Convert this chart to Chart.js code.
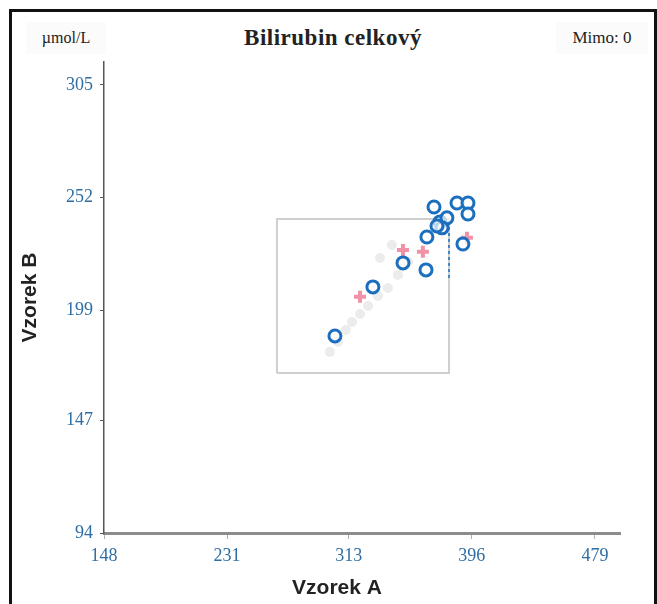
<!DOCTYPE html>
<html>
<head>
<meta charset="utf-8">
<script src="https://cdn.jsdelivr.net/npm/chart.js@4.4.0/dist/chart.umd.min.js"></script>
<style>
  body { margin: 0; background: #fff; overflow: hidden; }
  #wrap { position: relative; width: 657px; height: 604px; }
  #frame { position: absolute; left: 9px; top: 9px; width: 642px; height: 610px; border: 3px solid #111; border-bottom: none; }
  .hdr { position: absolute; top: 22px; height: 32px; line-height: 32px; font-family: "Liberation Serif", serif; color: #222; }
  #unit { left: 26px; width: 80px; text-align: center; font-size: 16px; background: #fbfbfb; }
  #title { left: 170px; width: 326px; text-align: center; font-size: 23px; font-weight: bold; letter-spacing: 0.5px; }
  #mimo { left: 556px; width: 92px; text-align: center; font-size: 17px; background: #fbfbfb; }
  canvas { position: absolute; left: 0; top: 0; }
</style>
</head>
<body>
<div id="wrap">
  <div id="frame"></div>
  <div class="hdr" id="unit">µmol/L</div>
  <div class="hdr" id="title">Bilirubin celkový</div>
  <div class="hdr" id="mimo">Mimo: 0</div>
  <canvas id="myChart" width="657" height="604"></canvas>
</div>
<script>
// axis ticks
const xTicks = [148, 231, 313, 396, 479];
const yTicks = [94, 147, 199, 252, 305];

// laboratories (blue circles)
const labA = [370.5, 386.0, 393.4, 393.4, 374.5, 379.2, 375.9, 372.5, 365.7, 390.0, 349.6, 365.1, 329.3, 303.7];
const labB = [247.5, 249.4, 249.4, 244.2, 240.5, 242.4, 237.7, 238.6, 233.4, 230.1, 221.2, 217.9, 209.9, 186.8];

// red markers
const refA = [349.6, 363.0, 320.6, 392.7];
const refB = [227.3, 226.4, 205.2, 233.0];

// faint grey cloud of earlier results
const histA = [300.3, 305.7, 311.1, 315.2, 320.6, 326.0, 332.7, 339.4, 346.2, 353.0, 342.1, 334.1];
const histB = [179.3, 184.0, 189.6, 193.4, 197.1, 200.9, 205.6, 209.4, 215.5, 221.6, 229.6, 223.5];

// acceptance box
const boxA = [264.6, 380.6, 380.6, 264.6, 264.6];
const boxB = [169.4, 169.4, 241.9, 241.9, 169.4];
const markA = [380.6, 380.6];
const markB = [214.1, 238.1];

function pts(xs, ys) {
  return xs.map((x, i) => ({ x: x, y: ys[i] }));
}

const xTitle = {
  id: "xTitle",
  afterDraw(chart) {
    const ctx = chart.ctx;
    ctx.save();
    ctx.font = "bold 21px 'Liberation Sans', Arial, sans-serif";
    ctx.fillStyle = "#222";
    ctx.textAlign = "center";
    ctx.textBaseline = "middle";
    ctx.fillText("Vzorek A", 337, 588);
    ctx.restore();
  },
};

const tickFont = { family: "'Liberation Serif', serif", size: 18 };

const data = {
  datasets: [
    {
      label: "laboratoře",
      data: pts(labA, labB),
      pointStyle: "circle",
      pointRadius: 6,
      borderWidth: 3,
      borderColor: "#1b6fbe",
      backgroundColor: "rgba(255,255,255,0.7)",
    },
    {
      label: "reference",
      data: pts(refA, refB),
      pointStyle: "cross",
      pointRadius: 6,
      borderWidth: 4,
      borderColor: "rgba(232,74,108,0.6)",
      backgroundColor: "rgba(232,74,108,0.6)",
    },
    {
      label: "mark",
      data: pts(markA, markB),
      showLine: true,
      pointRadius: 0,
      borderColor: "#1b6fbe",
      borderWidth: 1.5,
      borderDash: [3, 3],
    },
    {
      label: "box",
      data: pts(boxA, boxB),
      showLine: true,
      pointRadius: 0,
      borderColor: "#cfcfcf",
      borderWidth: 2,
    },
    {
      label: "historie",
      data: pts(histA, histB),
      pointStyle: "circle",
      pointRadius: 5,
      borderWidth: 0,
      backgroundColor: "rgba(150,150,150,0.18)",
    },
  ],
};

const config = {
  type: "scatter",
  data: data,
  plugins: [xTitle],
  options: {
    responsive: false,
    animation: false,
    layout: { padding: { top: 62, right: 37, bottom: 0, left: 0 } },
    plugins: { legend: { display: false }, tooltip: { enabled: false } },
    scales: {
      x: {
        type: "linear",
        min: 148,
        max: 495.9,
        afterFit: (s) => { s.height = 71; },
        afterBuildTicks: (s) => { s.ticks = xTicks.map((v) => ({ value: v })); },
        ticks: { font: tickFont, color: "#2f6ea5", padding: 6, callback: (v) => String(v) },
        grid: { drawOnChartArea: false, tickLength: 6, tickColor: "#b0b0b0" },
        border: { color: "#8c8c8c", width: 3 },
      },
      y: {
        type: "linear",
        min: 94,
        max: 315.8,
        afterFit: (s) => { s.width = 104; },
        afterBuildTicks: (s) => { s.ticks = yTicks.map((v) => ({ value: v })); },
        ticks: { font: tickFont, color: "#2f6ea5", padding: 7, callback: (v) => String(v) },
        grid: { drawOnChartArea: false, tickLength: 4, tickColor: "#555" },
        border: { color: "#555", width: 1.5, dash: [2, 2] },
        title: {
          display: true,
          text: "Vzorek B",
          color: "#222",
          font: { family: "'Liberation Sans', Arial, sans-serif", size: 21, weight: "bold" },
          padding: { top: 18, bottom: 0 },
        },
      },
    },
  },
};

const ctx = document.getElementById("myChart").getContext("2d");
const myChart = new Chart(ctx, config);
</script>
</body>
</html>
